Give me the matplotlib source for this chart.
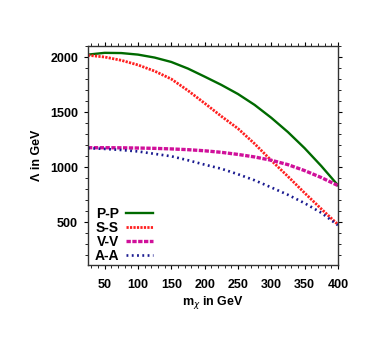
import matplotlib
matplotlib.use("Agg")
import matplotlib.pyplot as plt
from matplotlib.ticker import MultipleLocator

plt.rcParams['font.family'] = ['Liberation Sans', 'DejaVu Sans']

m_chi = [25, 50, 75, 100, 125, 150, 175, 200, 225, 250, 275, 300, 325, 350, 375, 400]
pp = [2022, 2038, 2036, 2022, 1995, 1955, 1895, 1822, 1747, 1664, 1565, 1448, 1318, 1172, 1010, 835]
ss = [2016, 2000, 1970, 1928, 1872, 1800, 1695, 1580, 1462, 1350, 1212, 1060, 915, 765, 620, 478]
vv = [1176, 1176, 1175, 1173, 1170, 1165, 1158, 1148, 1134, 1115, 1092, 1062, 1022, 968, 905, 832]
aa = [1172, 1165, 1155, 1142, 1120, 1098, 1062, 1022, 985, 935, 880, 815, 748, 672, 585, 472]
labels = ["P-P", "S-S", "V-V", "A-A"]

fig = plt.figure(figsize=(3.92, 3.54), dpi=100)
ax = fig.add_axes([0.2245, 0.2514, 0.6375, 0.6186])

ax.plot(m_chi, pp, color='#006a00', lw=1.7, label=labels[0])
ax.plot(m_chi, ss, color='#ff2020', lw=2.0, dashes=(0.8, 0.45), label=labels[1])
ax.plot(m_chi, vv, color='#d0109a', lw=2.4, dashes=(1.3, 0.45), label=labels[2])
ax.plot(m_chi, aa, color='#1a1a90', lw=1.9, dashes=(0.7, 1.3), label=labels[3])

ax.set_xlim(25, 400)
ax.set_ylim(110, 2100)
ax.xaxis.set_major_locator(MultipleLocator(50))
ax.xaxis.set_minor_locator(MultipleLocator(10))
ax.yaxis.set_major_locator(MultipleLocator(500))
ax.yaxis.set_minor_locator(MultipleLocator(100))
ax.tick_params(which='both', direction='out', top=True, right=True,
               labeltop=False, labelright=False, labelsize=9)
ax.tick_params(which='major', length=3.2, width=0.8)
ax.tick_params(which='minor', length=2.2, width=0.6)
ax.tick_params(axis='x', which='major', pad=7)
ax.tick_params(axis='y', which='major', pad=4)
for lab in ax.get_xticklabels() + ax.get_yticklabels():
    lab.set_fontweight('bold')
for s in ax.spines.values():
    s.set_linewidth(1.0)
    s.set_color('#333333')

ax.set_xlabel(r"m$_\chi$ in GeV", fontsize=9, fontweight='bold', labelpad=2)
ax.set_ylabel("Λ in GeV", fontsize=9, fontweight='bold', labelpad=5)

leg = ax.legend(loc='lower left', bbox_to_anchor=(0.0, -0.02), frameon=False,
                markerfirst=False, prop={'weight': 'bold', 'size': 10},
                handlelength=2.0, labelspacing=0.0, borderaxespad=0.05,
                handletextpad=0.5)

fig.savefig("out.png", dpi=100)
